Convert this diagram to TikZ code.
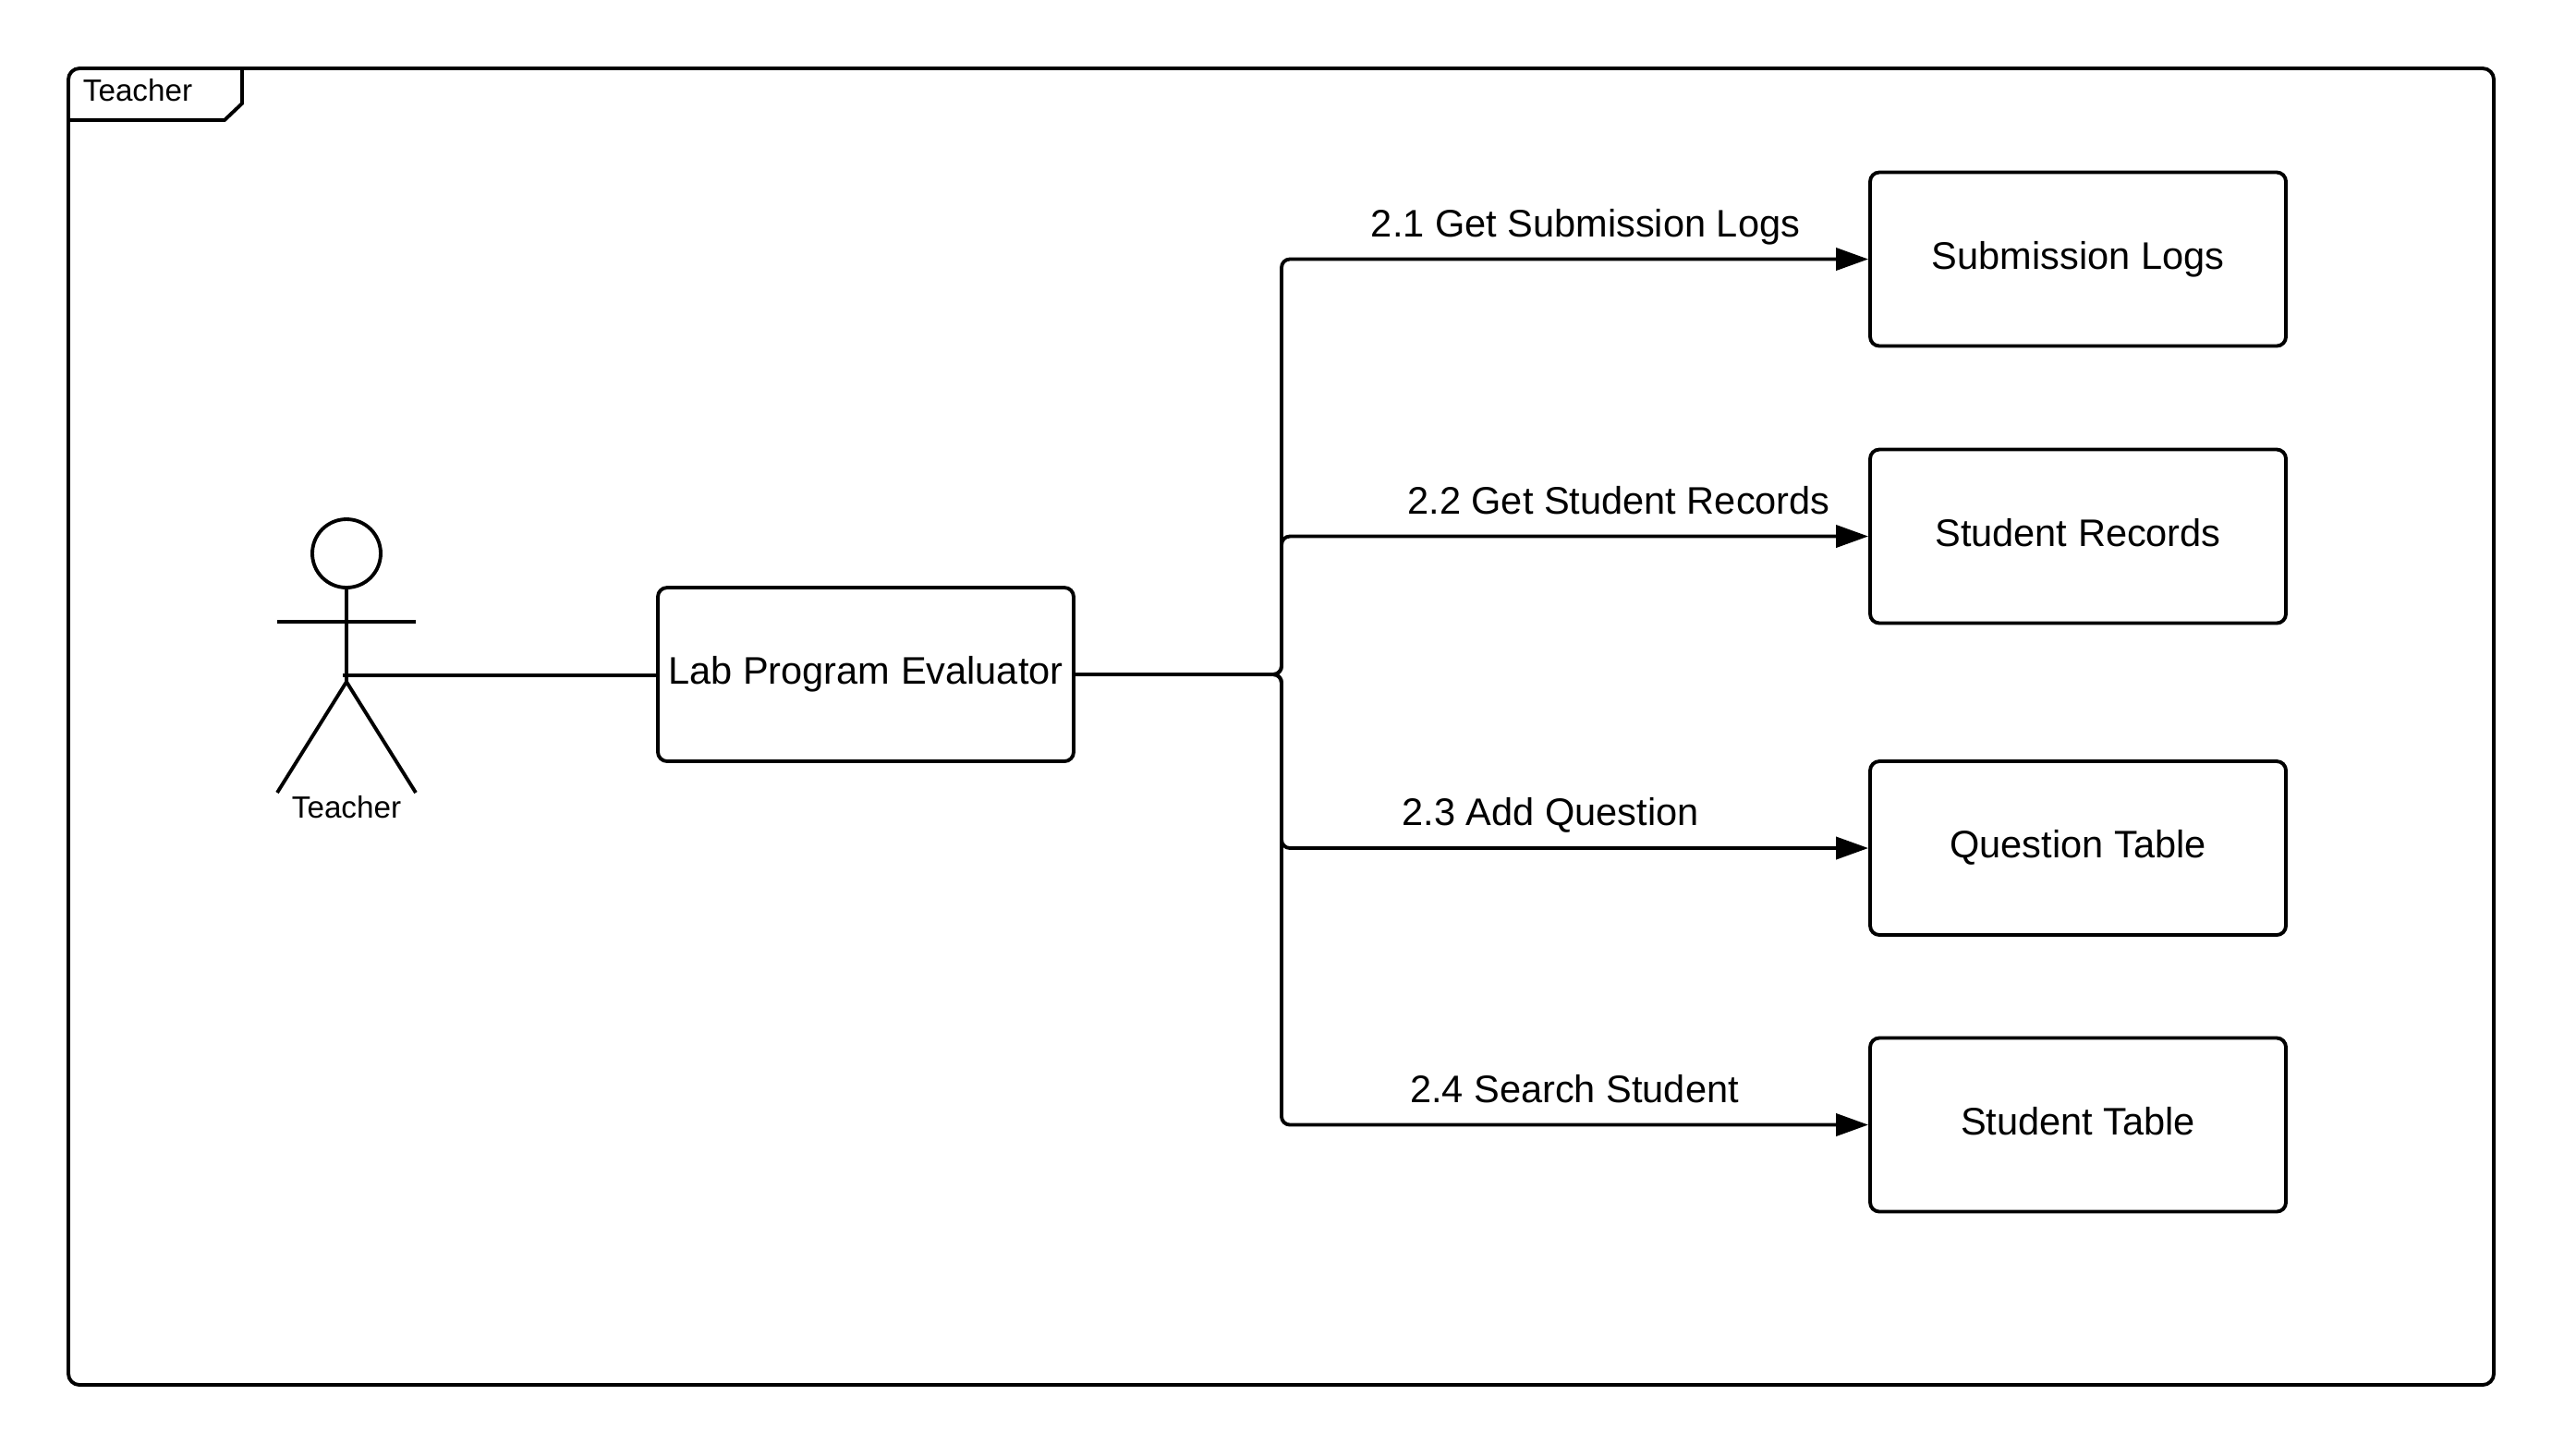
\documentclass[tikz,border=0pt]{standalone}
\usepackage{fontspec}
\setmainfont{Liberation Sans}
\usetikzlibrary{positioning, calc, arrows.meta}
\tikzset{
    base/.style={
        font=\fontsize{11.82}{14}\selectfont,
        align=center,
        text height=0.8em,
        text depth=0.2em,
        inner sep=0pt
    },
    smalltext/.style={
        font=\fontsize{9.45}{11}\selectfont,
        inner sep=0pt
    },
    block/.style={
        base,
        rectangle,
        rounded corners=0.1cm,
        draw=black,
        line width=1.1pt,
        fill=white,
        minimum width=4.5cm,
        minimum height=1.88cm
    },
    outline/.style={
        rectangle,
        rounded corners=0.12cm,
        draw=black,
        line width=1.1pt,
        minimum width=26.25cm,
        minimum height=14.25cm
    },
    stick/.style={
        draw=black,
        line width=1.1pt
    },
    link/.style={
        draw=black,
        line width=1.1pt
    },
    flow/.style={
        link,
        rounded corners=0.09cm,
        -{Triangle[length=0.35cm,width=0.24cm]}
    }
}
\begin{document}
\begin{tikzpicture}
  \useasboundingbox (0,0) rectangle (27.75,-15.75);

  % Frame
  \node[outline] (frame) at (13.865,-7.865) {};
  \coordinate (tabtop) at (2.62,-0.74);
  \coordinate (tabside) at (2.62,-1.12);
  \coordinate (tabcut) at (2.43,-1.30);
  \coordinate (tableft) at (0.74,-1.30);
  \draw[stick] (tabtop) -- (tabside) -- (tabcut) -- (tableft);
  \node[smalltext] (frametitle) at (1.49,-0.98) {Teacher};

  % Actor
  \node[stick, circle, minimum size=0.74cm, inner sep=0pt] (head) at (3.75,-5.99) {};
  \coordinate (armleft) at (3.00,-6.73);
  \coordinate (armright) at (4.50,-6.73);
  \coordinate (hip) at (3.75,-7.38);
  \coordinate (footleft) at (3.00,-8.58);
  \coordinate (footright) at (4.50,-8.58);
  \coordinate (hand) at (3.71,-7.31);
  \draw[stick] (head) -- (hip);
  \draw[stick] (armleft) -- (armright);
  \draw[stick] (footleft) -- (hip) -- (footright);
  \node[smalltext] (actorname) at (3.75,-8.74) {Teacher};

  % Evaluator
  \node[block] (evaluator) at (9.37,-7.30) {Lab Program Evaluator};
  \draw[link] (hand) -- (hand -| evaluator.west);

  % Tables
  \node[block] (logs) at (22.49,-2.805) {Submission Logs};
  \node[block] (records) at (22.49,-5.805) {Student Records};
  \node[block] (question) at (22.49,-9.18) {Question Table};
  \node[block] (student) at (22.49,-12.175) {Student Table};

  % Connectors
  \coordinate (fork) at (13.87,-7.30);
  \draw[flow] (evaluator.east) -- (fork) |- (logs.west);
  \draw[flow] (evaluator.east) -- (fork) |- (records.west);
  \draw[flow] (evaluator.east) -- (fork) |- (question.west);
  \draw[flow] (evaluator.east) -- (fork) |- (student.west);

  % Labels
  \node[base] (getlogs) at (17.16,-2.46) {2.1 Get Submission Logs};
  \node[base] (getrecords) at (17.52,-5.46) {2.2 Get Student Records};
  \node[base] (addquestion) at (16.78,-8.83) {2.3 Add Question};
  \node[base] (searchstudent) at (17.04,-11.83) {2.4 Search Student};
\end{tikzpicture}
\end{document}
